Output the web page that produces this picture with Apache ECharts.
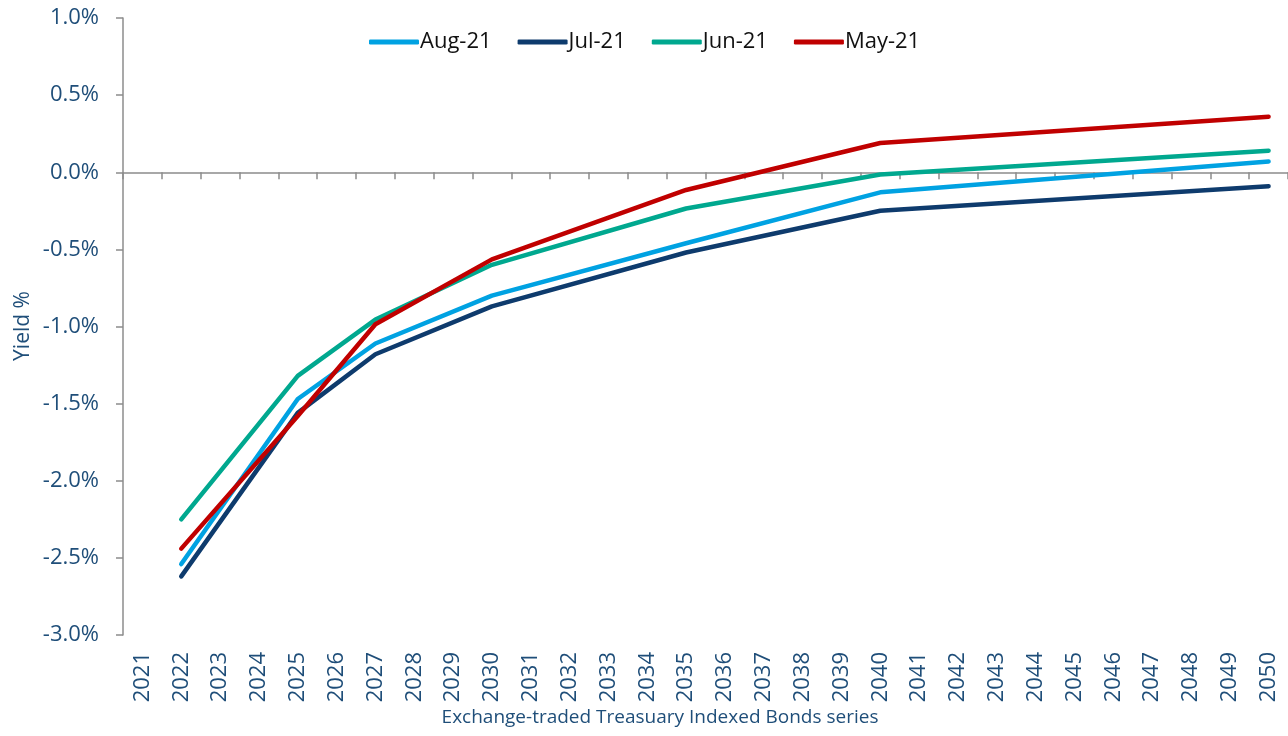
<!DOCTYPE html>
<html>
<head>
<meta charset="utf-8">
<script src="https://cdn.jsdelivr.net/npm/echarts@6/dist/echarts.min.js"></script>
<style>
    html, body { margin: 0; padding: 0; background: #fff; }
    #chart { width: 1288px; height: 736px; }
</style>
</head>
<body>
<div id="chart"></div>
<script>
var years = [];
for (var y = 2021; y <= 2050; y++) years.push(String(y));

// bond series maturities that have a reading (all other years empty)
var bondYears = ['2022', '2025', '2027', '2030', '2035', '2040', '2050'];

var aug21 = [-2.54, -1.47, -1.11, -0.80, -0.46, -0.13, 0.07];
var jul21 = [-2.62, -1.56, -1.18, -0.87, -0.52, -0.25, -0.09];
var jun21 = [-2.25, -1.32, -0.955, -0.60, -0.235, -0.015, 0.14];
var may21 = [-2.44, -1.58, -0.985, -0.565, -0.115, 0.19, 0.36];

var yTicks = { min: -3, max: 1, interval: 0.5 };

var labelBlue = '#1F4E79';
var axisGrey = '#8c8c8c';
var font = '"Open Sans", sans-serif';

function onYears(vals) {
    var out = years.map(function () { return null; });
    bondYears.forEach(function (yr, i) {
        out[years.indexOf(yr)] = vals[i];
    });
    return out;
}

function lineSeries(name, vals, color) {
    return {
        name: name,
        type: 'line',
        data: onYears(vals),
        connectNulls: true,
        showSymbol: false,
        symbol: 'none',
        lineStyle: { color: color, width: 4.5, cap: 'round', join: 'round' },
        itemStyle: { color: color },
        emphasis: { disabled: true }
    };
}

var myChart = echarts.init(document.getElementById('chart'));

var option = {
    backgroundColor: '#fff',
    animation: false,
    grid: { left: 123, right: 0, top: 18, bottom: 101 },
    legend: {
        top: 26,
        left: 364,
        itemWidth: 50,
        itemHeight: 5,
        itemGap: 26,
        icon: 'roundRect',
        textStyle: { fontFamily: font, fontSize: 22, color: '#111', padding: [0, 0, 0, -4] },
        data: ['Aug-21', 'Jul-21', 'Jun-21', 'May-21']
    },
    xAxis: [
        {
            type: 'category',
            data: years,
            position: 'bottom',
            axisLine: { show: false, onZero: false },
            axisTick: { show: false },
            axisLabel: {
                rotate: 90,
                margin: 17,
                interval: 0,
                fontFamily: font,
                fontSize: 22,
                color: labelBlue
            }
        },
        {
            type: 'category',
            data: years,
            position: 'bottom',
            axisLine: { show: true, onZero: true, onZeroAxisIndex: 0, lineStyle: { color: axisGrey, width: 1.5 } },
            axisTick: { show: true, length: 7, interval: 0, lineStyle: { color: axisGrey, width: 1.5 } },
            axisLabel: { show: false }
        }
    ],
    yAxis: {
        type: 'value',
        min: yTicks.min,
        max: yTicks.max,
        interval: yTicks.interval,
        splitLine: { show: false },
        axisLine: { show: true, lineStyle: { color: axisGrey, width: 1.5 } },
        axisTick: { show: true, length: 7, lineStyle: { color: axisGrey, width: 1.5 } },
        axisLabel: {
            margin: 24,
            fontFamily: font,
            fontSize: 22,
            color: labelBlue,
            formatter: function (v) { return v.toFixed(1) + '%'; }
        }
    },
    graphic: [
        {
            type: 'text',
            x: 23,
            y: 326,
            rotation: Math.PI / 2,
            style: {
                text: 'Yield %',
                fontFamily: font,
                fontSize: 21,
                fill: labelBlue,
                align: 'center',
                verticalAlign: 'middle'
            }
        },
        {
            type: 'text',
            x: 660,
            y: 718,
            style: {
                text: 'Exchange-traded Treasuary Indexed Bonds series',
                fontFamily: font,
                fontSize: 19,
                fill: labelBlue,
                align: 'center',
                verticalAlign: 'middle'
            }
        }
    ],
    series: [
        lineSeries('Aug-21', aug21, '#00A2E2'),
        lineSeries('Jul-21', jul21, '#0E3B6D'),
        lineSeries('Jun-21', jun21, '#00A88F'),
        lineSeries('May-21', may21, '#C00000')
    ]
};

myChart.setOption(option);
</script>
</body>
</html>
